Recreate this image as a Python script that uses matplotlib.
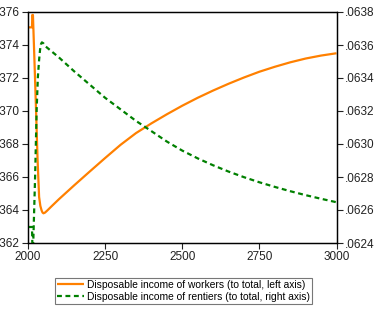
import matplotlib
matplotlib.use("Agg")
import matplotlib.pyplot as plt
from matplotlib.ticker import FixedLocator, FuncFormatter

plt.rcParams['font.family'] = ['Liberation Sans', 'DejaVu Sans']

# Disposable income of workers (share of total, left axis)
workers_years = [2000, 2013, 2014, 2016, 2021, 2026, 2031, 2036, 2040, 2044, 2047, 2050, 2055, 2062,
                 2075, 2100, 2150, 2200, 2250, 2300, 2350, 2400, 2450, 2500, 2550, 2600, 2650,
                 2700, 2750, 2800, 2850, 2900, 2950, 3000]
workers_vals = [0.37507, 0.37507, 0.37582, 0.37582, 0.3730, 0.3701, 0.36707, 0.36479, 0.36425, 0.36398,
                0.36385, 0.36380, 0.36384, 0.36396, 0.36420, 0.36465, 0.36550, 0.36633, 0.36715,
                0.36795, 0.36866, 0.36925, 0.36980, 0.37032, 0.37080, 0.37124, 0.37165, 0.37203,
                0.37238, 0.37268, 0.37295, 0.37318, 0.37336, 0.37350]

# Disposable income of rentiers (share of total, right axis)
rentiers_years = [2000, 2013, 2014, 2017, 2020, 2023, 2028, 2032, 2036, 2039, 2042, 2045, 2050, 2058,
                  2100, 2150, 2200, 2250, 2300, 2350, 2400, 2450, 2500, 2550, 2600, 2650, 2700,
                  2750, 2800, 2850, 2900, 2950, 3000]
rentiers_vals = [0.062497, 0.062497, 0.06240, 0.06240, 0.06260, 0.06280, 0.063206, 0.063406, 0.06351,
                 0.06357, 0.063605, 0.063616, 0.06361, 0.06359, 0.063525, 0.06344, 0.06336, 0.06328,
                 0.06321, 0.06314, 0.063078, 0.063015, 0.06296, 0.062913, 0.062871, 0.062833,
                 0.062799, 0.062768, 0.06274, 0.062714, 0.06269, 0.062668, 0.062647]

x_ticks = [2000, 2250, 2500, 2750, 3000]
left_ticks = [0.362, 0.364, 0.366, 0.368, 0.370, 0.372, 0.374, 0.376]
right_ticks = [0.0624, 0.0626, 0.0628, 0.0630, 0.0632, 0.0634, 0.0636, 0.0638]

label_workers = "Disposable income of workers (to total, left axis)"
label_rentiers = "Disposable income of rentiers (to total, right axis)"

fig = plt.figure(figsize=(3.74, 3.14), dpi=100)
ax = fig.add_axes([28 / 374, 1 - 243 / 314, (336.5 - 28) / 374, (243 - 12) / 314])
ax2 = ax.twinx()

l1, = ax.plot(workers_years, workers_vals, color='#FF8000', lw=1.6,
              solid_joinstyle='round', solid_capstyle='butt')
l2, = ax2.plot(rentiers_years, rentiers_vals, color='#008000', lw=1.6, linestyle=(0, (2.2, 1.6)))

ax.set_xlim(2000, 3000)
ax.set_ylim(0.362, 0.376)
ax2.set_ylim(0.0624, 0.0638)

ax.xaxis.set_major_locator(FixedLocator(x_ticks))
ax.yaxis.set_major_locator(FixedLocator(left_ticks))
ax2.yaxis.set_major_locator(FixedLocator(right_ticks))
ax.yaxis.set_major_formatter(FuncFormatter(lambda v, p: f"{v:.3f}"[1:]))
ax2.yaxis.set_major_formatter(FuncFormatter(lambda v, p: f"{v:.4f}"[1:]))

for a in (ax, ax2):
    a.tick_params(direction='out', length=4, width=0.8, labelsize=8.5, colors='#222222', pad=2)
    for s in a.spines.values():
        s.set_linewidth(0.9)
        s.set_color('black')

leg = fig.legend([l1, l2], [label_workers, label_rentiers],
                 loc='upper left', bbox_to_anchor=(55 / 374, 1 - 278 / 314),
                 fontsize=7.35, frameon=True, fancybox=False, edgecolor='#555555',
                 handlelength=2.6, handletextpad=0.3, borderpad=0.2, labelspacing=0.15,
                 borderaxespad=0)
leg.get_frame().set_linewidth(0.8)

fig.savefig("out.png", dpi=100)
